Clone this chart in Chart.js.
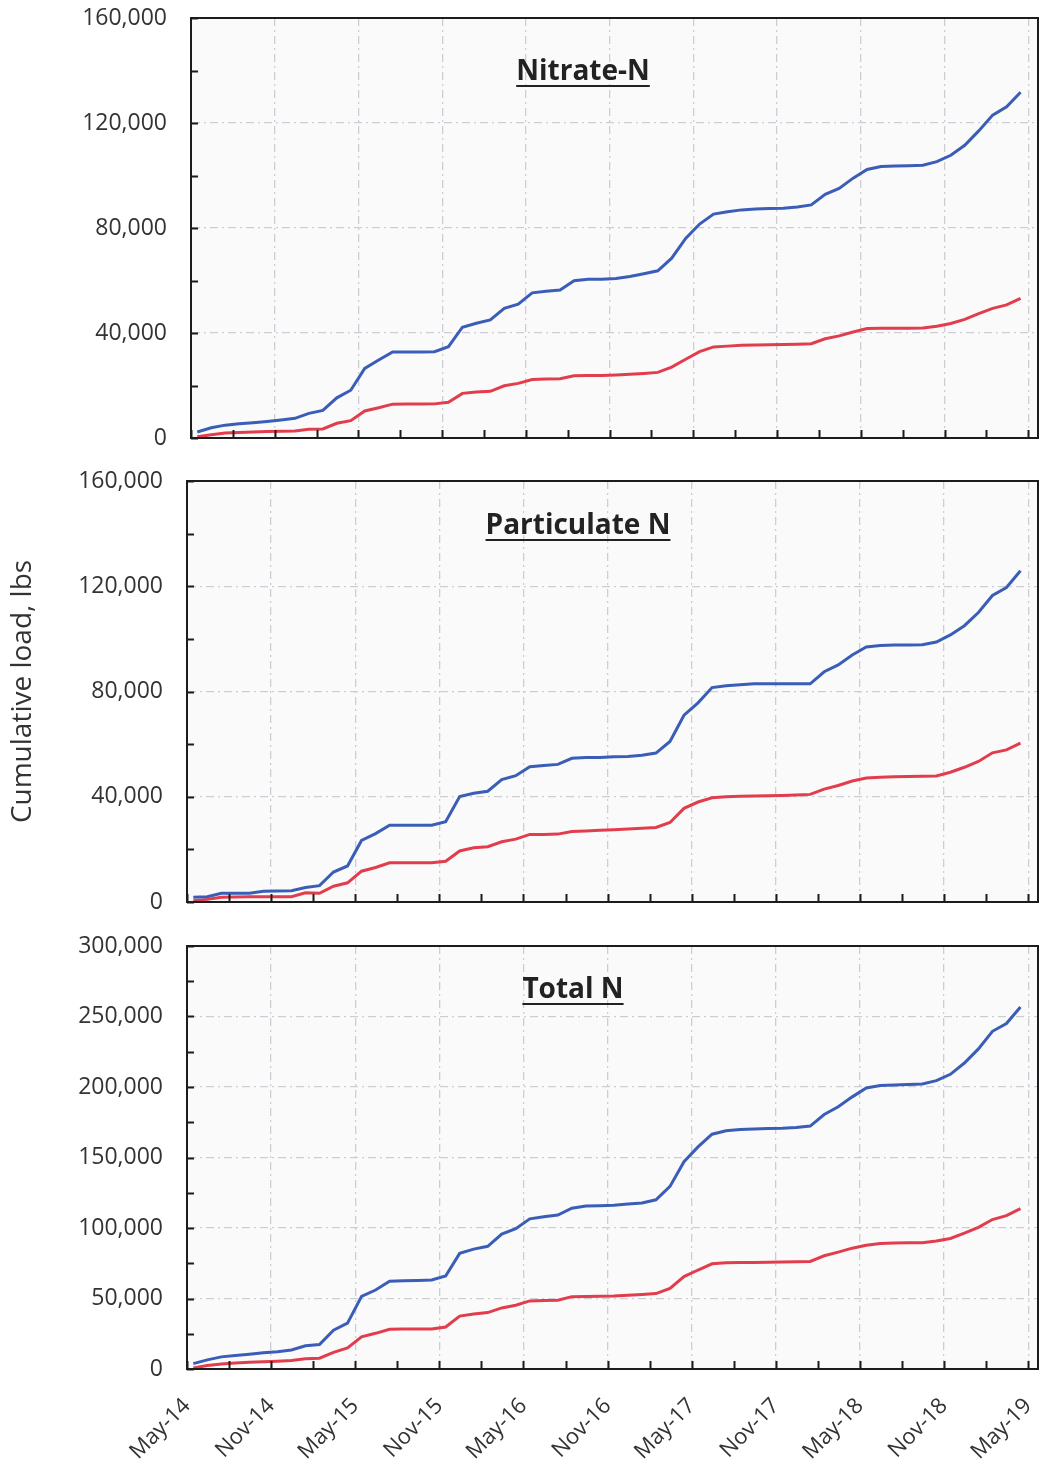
<!DOCTYPE html>
<html>
<head>
<meta charset="utf-8">
<script src="https://cdn.jsdelivr.net/npm/chart.js@4.4.1/dist/chart.umd.min.js"></script>
<style>
  html, body { margin: 0; padding: 0; background: #ffffff; }
  #wrap { position: relative; width: 1042px; height: 1466px; overflow: hidden; }
  #wrap canvas { position: absolute; left: 0; }
</style>
</head>
<body>
<div id="wrap">
  <canvas id="nitrate" width="1042" height="460" style="top:0px"></canvas>
  <canvas id="particulate" width="1042" height="462" style="top:460px"></canvas>
  <canvas id="total" width="1042" height="544" style="top:922px"></canvas>
</div>
<script>
// Monthly record, May 2014 through April 2019
const months = [
  'May-14','Jun-14','Jul-14','Aug-14','Sep-14','Oct-14','Nov-14','Dec-14','Jan-15','Feb-15','Mar-15','Apr-15',
  'May-15','Jun-15','Jul-15','Aug-15','Sep-15','Oct-15','Nov-15','Dec-15','Jan-16','Feb-16','Mar-16','Apr-16',
  'May-16','Jun-16','Jul-16','Aug-16','Sep-16','Oct-16','Nov-16','Dec-16','Jan-17','Feb-17','Mar-17','Apr-17',
  'May-17','Jun-17','Jul-17','Aug-17','Sep-17','Oct-17','Nov-17','Dec-17','Jan-18','Feb-18','Mar-18','Apr-18',
  'May-18','Jun-18','Jul-18','Aug-18','Sep-18','Oct-18','Nov-18','Dec-18','Jan-19','Feb-19','Mar-19','Apr-19'
];

// Axis labels every six months
const tickLabels = ['May-14','Nov-14','May-15','Nov-15','May-16','Nov-16','May-17','Nov-17','May-18','Nov-18','May-19'];

// Cumulative nitrate-N load, lbs
const nitrateA = [
  2300, 3900, 4900, 5400, 5800, 6300, 6900, 7500, 9400, 10500, 15300, 18200,
  26500, 29700, 32800, 32800, 32800, 32900, 34800, 42200, 43700, 45000, 49400, 51000,
  55300, 55900, 56400, 59900, 60500, 60500, 60800, 61500, 62600, 63700, 68500, 76000,
  81500, 85300, 86200, 86900, 87200, 87400, 87500, 88000, 88800, 92800, 95100, 99000,
  102300, 103400, 103600, 103700, 103900, 105300, 107700, 111500, 117000, 123000, 126200, 131700
];
const nitrateB = [
  500, 1200, 1900, 2100, 2300, 2500, 2600, 2700, 3300, 3450, 5600, 6600,
  10300, 11500, 12900, 12950, 12950, 13000, 13600, 17000, 17500, 17800, 19900, 20800,
  22300, 22500, 22600, 23700, 23800, 23800, 24000, 24300, 24600, 25000, 27000, 30000,
  32900, 34700, 35000, 35300, 35400, 35500, 35600, 35700, 35900, 37800, 38900, 40400,
  41700, 41800, 41800, 41800, 41900, 42600, 43600, 45200, 47400, 49400, 50700, 53200
];

// Cumulative particulate N load, lbs
const particulateA = [
  1800, 2000, 3300, 3300, 3300, 4100, 4200, 4300, 5500, 6200, 11400, 13700,
  23400, 26000, 29200, 29200, 29200, 29200, 30500, 40100, 41300, 42100, 46500, 48000,
  51400, 51900, 52300, 54600, 54900, 54900, 55200, 55300, 55800, 56600, 61000, 71000,
  75700, 81500, 82200, 82600, 82900, 82900, 82900, 82900, 82900, 87500, 90100, 93900,
  96900, 97500, 97700, 97700, 97800, 98800, 101500, 105000, 110000, 116500, 119500, 125900
];
const particulateB = [
  500, 1000, 1800, 1900, 2000, 2000, 2000, 2000, 3500, 3300, 6000, 7300,
  11700, 13100, 14900, 14900, 14900, 14900, 15500, 19400, 20600, 21000, 22900, 23900,
  25700, 25700, 25800, 26800, 27000, 27300, 27500, 27700, 28000, 28300, 30200, 35600,
  38000, 39600, 40000, 40200, 40300, 40400, 40500, 40700, 40900, 42900, 44300, 46000,
  47100, 47400, 47600, 47700, 47800, 47900, 49300, 51200, 53400, 56700, 57800, 60400
];

// Cumulative total N load, lbs
const totalA = [
  3800, 6500, 8600, 9500, 10400, 11500, 12300, 13500, 16500, 17300, 27500, 32500,
  51500, 56000, 62300, 62600, 62800, 63100, 66000, 82000, 85000, 87000, 95700, 99500,
  106500, 108000, 109200, 114000, 115600, 115800, 116200, 117000, 117700, 120000, 129500, 147000,
  157500, 166500, 169000, 169800, 170300, 170500, 170700, 171200, 172300, 180500, 186000, 193000,
  199300, 201000, 201500, 201800, 202200, 204500, 209000, 217000, 227000, 239500, 245000, 256700
];
const totalB = [
  800, 2500, 3600, 4200, 4700, 5100, 5500, 6100, 7200, 7700, 11800, 15000,
  22800, 25300, 28200, 28300, 28300, 28400, 29800, 37500, 39000, 40000, 43300, 45200,
  48300, 48600, 48800, 51300, 51500, 51600, 51800, 52300, 52800, 53500, 57200, 65500,
  70200, 74600, 75300, 75500, 75600, 75700, 75800, 76000, 76300, 80300, 82900, 85700,
  87800, 89000, 89300, 89500, 89600, 90800, 92600, 96300, 100500, 106000, 108800, 113800
];

Chart.defaults.font.family = "'Open Sans', 'DejaVu Sans', sans-serif";
Chart.defaults.color = '#333333';

const BLUE = '#3a5db7';
const RED = '#e13d4c';
const GRID = '#cdcdd6';
const AXIS = '#1c1c1c';

// month index (months since May 2014) of each six-month label
const tickMonths = tickLabels.map((_, i) => i * 6);

// each monthly value is plotted near the middle of its month
function toPoints(values) {
  return values.map((v, i) => ({ x: i + 0.45, y: v }));
}

// plot background, frame and inward tick marks
const framePlugin = {
  id: 'frame',
  beforeDraw(chart) {
    const { ctx, chartArea: a } = chart;
    ctx.save();
    ctx.fillStyle = '#fbfafa';
    ctx.fillRect(a.left, a.top, a.right - a.left, a.bottom - a.top);
    ctx.restore();
  },
  afterDraw(chart, args, o) {
    const { ctx, chartArea: a, scales: { x, y } } = chart;
    ctx.save();
    ctx.strokeStyle = AXIS;
    ctx.lineWidth = 2;
    ctx.strokeRect(a.left, a.top, a.right - a.left, a.bottom - a.top);
    ctx.beginPath();
    for (let v = 0; v <= y.max; v += o.yMinor) {
      const p = Math.round(y.getPixelForValue(v)) + 0.5;
      ctx.moveTo(a.left, p);
      ctx.lineTo(a.left + 7, p);
    }
    for (let v = 0; v <= 60; v += 3) {
      const p = Math.round(x.getPixelForValue(v)) + 0.5;
      ctx.moveTo(p, a.bottom);
      ctx.lineTo(p, a.bottom - 8);
    }
    ctx.stroke();
    ctx.restore();
  }
};

// underlined panel heading inside the plot area
const headingPlugin = {
  id: 'heading',
  afterDraw(chart, args, o) {
    const { ctx } = chart;
    ctx.save();
    ctx.font = "bold 28px 'Open Sans', sans-serif";
    ctx.fillStyle = '#222222';
    ctx.textAlign = 'center';
    ctx.textBaseline = 'alphabetic';
    ctx.fillText(o.text, o.x, o.y);
    const w = ctx.measureText(o.text).width;
    ctx.fillRect(o.x - w / 2, o.y + 5, w, 2);
    ctx.restore();
  }
};

function panel(id, p) {
  const el = document.getElementById(id);
  return new Chart(el, {
    type: 'line',
    data: {
      datasets: [
        { data: toPoints(p.upper), borderColor: BLUE, borderWidth: 3, pointRadius: 0, tension: 0, fill: false },
        { data: toPoints(p.lower), borderColor: RED, borderWidth: 3, pointRadius: 0, tension: 0, fill: false }
      ]
    },
    options: {
      responsive: false,
      animation: false,
      devicePixelRatio: 1,
      layout: { padding: { top: p.top, right: 4, bottom: 0, left: 0 } },
      plugins: {
        legend: { display: false },
        tooltip: { enabled: false },
        frame: { yMinor: p.yMinor },
        heading: { text: p.heading, x: p.headX, y: p.headY }
      },
      scales: {
        x: {
          type: 'linear',
          min: 0,
          max: 60.7,
          afterBuildTicks: s => { s.ticks = tickMonths.map(v => ({ value: v })); },
          afterFit: s => { s.height = p.xHeight; s.paddingLeft = 0; s.paddingRight = 0; },
          grid: { color: GRID, lineWidth: 1.3, drawTicks: false },
          border: { display: true, color: AXIS, width: 2, dash: [8, 4, 2, 4] },
          ticks: {
            display: p.showX,
            autoSkip: false,
            minRotation: 45,
            maxRotation: 45,
            padding: 24,
            font: { size: 22 },
            color: '#333333',
            callback: v => tickLabels[tickMonths.indexOf(v)]
          }
        },
        y: {
          min: 0,
          max: p.yMax,
          afterFit: s => { s.width = p.left; s.paddingTop = 0; s.paddingBottom = 0; },
          grid: { color: GRID, lineWidth: 1.3, drawTicks: false },
          border: { display: true, color: AXIS, width: 2, dash: [8, 4, 2, 4] },
          ticks: {
            stepSize: p.yStep,
            padding: 24,
            font: { size: 23 },
            color: '#333333',
            callback: v => v.toLocaleString('en-US')
          },
          title: {
            display: !!p.yTitle,
            text: p.yTitle || '',
            font: { size: 28 },
            color: '#333333',
            align: p.yTitleAlign || 'center',
            padding: { top: 6, bottom: 0 }
          }
        }
      }
    },
    plugins: [framePlugin, headingPlugin]
  });
}

panel('nitrate', {
  upper: nitrateA, lower: nitrateB,
  top: 18, left: 191, xHeight: 22, showX: false,
  yMax: 160000, yStep: 40000, yMinor: 20000,
  heading: 'Nitrate-N', headX: 583, headY: 80
});

panel('particulate', {
  upper: particulateA, lower: particulateB,
  top: 21, left: 187, xHeight: 20, showX: false,
  yMax: 160000, yStep: 40000, yMinor: 20000,
  yTitle: 'Cumulative load, lbs',
  heading: 'Particulate N', headX: 578, headY: 74
});

panel('total', {
  upper: totalA, lower: totalB,
  top: 24, left: 187, xHeight: 97, showX: true,
  yMax: 300000, yStep: 50000, yMinor: 25000,
  heading: 'Total N', headX: 573, headY: 76
});
</script>
</body>
</html>
